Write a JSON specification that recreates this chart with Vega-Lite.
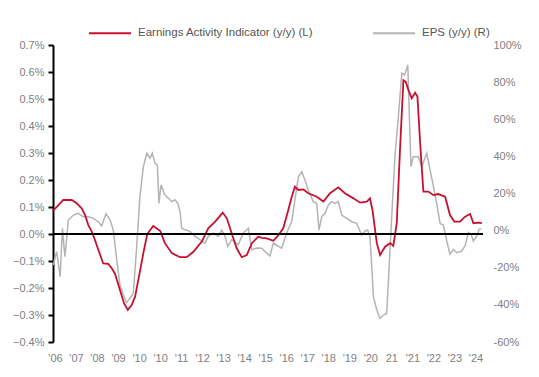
{
 "$schema": "https://vega.github.io/schema/vega-lite/v6.json",
 "width": 430,
 "height": 297,
 "autosize": {"type": "none"},
 "padding": {"left": 53, "top": 45, "right": 56, "bottom": 35},
 "config": {
  "view": {"stroke": null},
  "font": "Liberation Sans",
  "axis": {"grid": false, "title": null, "labelColor": "#808080", "labelFontSize": 11, "labelFont": "Liberation Sans", "labelOverlap": false, "labelBound": false, "labelFlush": false}
 },
 "datasets": {
  "eai": [
   {"t":2006.25,"v":0.086},{"t":2006.70,"v":0.126},{"t":2007.07,"v":0.126},{"t":2007.28,"v":0.114},{"t":2007.50,"v":0.095},
   {"t":2007.65,"v":0.070},{"t":2007.79,"v":0.033},{"t":2007.94,"v":0.009},{"t":2008.08,"v":-0.022},{"t":2008.23,"v":-0.059},
   {"t":2008.44,"v":-0.109},{"t":2008.66,"v":-0.111},{"t":2008.81,"v":-0.127},{"t":2008.95,"v":-0.146},{"t":2009.17,"v":-0.207},
   {"t":2009.35,"v":-0.257},{"t":2009.51,"v":-0.281},{"t":2009.68,"v":-0.263},{"t":2009.83,"v":-0.232},{"t":2009.97,"v":-0.170},
   {"t":2010.19,"v":-0.071},{"t":2010.36,"v":0.0},{"t":2010.62,"v":0.030},{"t":2010.70,"v":0.025},{"t":2010.92,"v":0.012},
   {"t":2011.13,"v":-0.034},{"t":2011.43,"v":-0.071},{"t":2011.79,"v":-0.086},{"t":2012.08,"v":-0.086},{"t":2012.37,"v":-0.066},
   {"t":2012.74,"v":-0.028},{"t":2013.02,"v":0.021},{"t":2013.32,"v":0.046},{"t":2013.65,"v":0.079},{"t":2013.83,"v":0.058},
   {"t":2014.04,"v":0.003},{"t":2014.26,"v":-0.053},{"t":2014.48,"v":-0.086},{"t":2014.70,"v":-0.078},{"t":2014.92,"v":-0.034},
   {"t":2015.20,"v":-0.010},{"t":2015.36,"v":-0.014},{"t":2015.57,"v":-0.016},{"t":2015.86,"v":-0.025},{"t":2016.08,"v":-0.004},
   {"t":2016.29,"v":0.021},{"t":2016.51,"v":0.089},{"t":2016.66,"v":0.138},{"t":2016.80,"v":0.175},{"t":2016.95,"v":0.163},
   {"t":2017.17,"v":0.165},{"t":2017.38,"v":0.151},{"t":2017.75,"v":0.138},{"t":2018.04,"v":0.120},{"t":2018.33,"v":0.151},
   {"t":2018.69,"v":0.173},{"t":2018.98,"v":0.151},{"t":2019.35,"v":0.132},{"t":2019.64,"v":0.116},{"t":2019.93,"v":0.120},
   {"t":2020.07,"v":0.132},{"t":2020.18,"v":0.089},{"t":2020.37,"v":-0.034},{"t":2020.51,"v":-0.078},{"t":2020.73,"v":-0.047},
   {"t":2020.95,"v":-0.034},{"t":2021.09,"v":-0.044},{"t":2021.24,"v":0.040},{"t":2021.38,"v":0.311},{"t":2021.53,"v":0.570},
   {"t":2021.63,"v":0.564},{"t":2021.75,"v":0.533},{"t":2021.89,"v":0.503},{"t":2022.04,"v":0.523},{"t":2022.14,"v":0.509},
   {"t":2022.26,"v":0.336},{"t":2022.40,"v":0.157},{"t":2022.62,"v":0.157},{"t":2022.84,"v":0.144},{"t":2023.05,"v":0.148},
   {"t":2023.35,"v":0.138},{"t":2023.56,"v":0.070},{"t":2023.75,"v":0.046},{"t":2024.00,"v":0.046},{"t":2024.22,"v":0.064},
   {"t":2024.44,"v":0.074},{"t":2024.58,"v":0.040},{"t":2024.80,"v":0.042},{"t":2024.95,"v":0.040}
  ],
  "eps": [
   {"t":2006.26,"v":-18.5},{"t":2006.41,"v":-11.3},{"t":2006.56,"v":-24.8},{"t":2006.66,"v":1.2},{"t":2006.77,"v":-14.1},
   {"t":2006.92,"v":5.7},{"t":2007.14,"v":8.4},{"t":2007.35,"v":9.3},{"t":2007.57,"v":7.5},{"t":2007.79,"v":7.5},
   {"t":2008.01,"v":6.6},{"t":2008.23,"v":4.8},{"t":2008.37,"v":2.5},{"t":2008.56,"v":9.0},{"t":2008.74,"v":5.7},
   {"t":2008.88,"v":0.3},{"t":2009.03,"v":-15.8},{"t":2009.17,"v":-29.3},{"t":2009.35,"v":-35.6},{"t":2009.46,"v":-38.8},
   {"t":2009.61,"v":-36.4},{"t":2009.75,"v":-33.8},{"t":2009.90,"v":-8.7},{"t":2010.04,"v":18.3},{"t":2010.19,"v":34.4},
   {"t":2010.34,"v":41.7},{"t":2010.48,"v":39.0},{"t":2010.58,"v":41.7},{"t":2010.70,"v":36.3},{"t":2010.80,"v":35.3},
   {"t":2010.87,"v":14.7},{"t":2010.96,"v":24.6},{"t":2011.13,"v":19.2},{"t":2011.28,"v":17.4},{"t":2011.43,"v":15.6},
   {"t":2011.57,"v":16.6},{"t":2011.69,"v":14.7},{"t":2011.79,"v":10.3},{"t":2011.86,"v":1.3},{"t":2012.01,"v":0.5},
   {"t":2012.22,"v":-0.4},{"t":2012.44,"v":-3.1},{"t":2012.66,"v":-4.9},{"t":2012.88,"v":-6.7},{"t":2013.02,"v":-3.1},
   {"t":2013.24,"v":-1.3},{"t":2013.46,"v":-3.1},{"t":2013.61,"v":0.3},{"t":2013.75,"v":-3.1},{"t":2013.87,"v":-8.5},
   {"t":2014.04,"v":-4.9},{"t":2014.33,"v":-7.5},{"t":2014.55,"v":-1.3},{"t":2014.77,"v":1.3},{"t":2014.92,"v":-10.3},
   {"t":2015.13,"v":-9.4},{"t":2015.35,"v":-9.5},{"t":2015.50,"v":-11.3},{"t":2015.71,"v":-13.6},{"t":2015.86,"v":-6.7},
   {"t":2016.08,"v":-8.5},{"t":2016.22,"v":-9.4},{"t":2016.44,"v":-1.3},{"t":2016.66,"v":5.0},{"t":2016.80,"v":16.6},
   {"t":2016.95,"v":29.0},{"t":2017.10,"v":31.7},{"t":2017.24,"v":27.2},{"t":2017.38,"v":21.9},{"t":2017.60,"v":15.6},
   {"t":2017.75,"v":14.7},{"t":2017.85,"v":0.3},{"t":2017.97,"v":7.5},{"t":2018.11,"v":9.3},{"t":2018.26,"v":13.8},
   {"t":2018.40,"v":15.6},{"t":2018.55,"v":14.7},{"t":2018.69,"v":15.6},{"t":2018.84,"v":8.4},{"t":2019.06,"v":6.6},
   {"t":2019.28,"v":4.8},{"t":2019.49,"v":3.9},{"t":2019.71,"v":-2.3},{"t":2019.86,"v":-0.2},{"t":2019.97,"v":0.3},
   {"t":2020.07,"v":-3.1},{"t":2020.15,"v":-19.3},{"t":2020.22,"v":-35.6},{"t":2020.37,"v":-42.8},{"t":2020.51,"v":-47.3},
   {"t":2020.66,"v":-45.5},{"t":2020.80,"v":-44.6},{"t":2020.87,"v":-28.4},{"t":2021.02,"v":7.5},{"t":2021.16,"v":39.8},
   {"t":2021.31,"v":61.4},{"t":2021.46,"v":84.8},{"t":2021.57,"v":83.8},{"t":2021.68,"v":87.4},{"t":2021.72,"v":89.2},
   {"t":2021.79,"v":61.4},{"t":2021.86,"v":34.4},{"t":2021.96,"v":39.8},{"t":2022.18,"v":39.8},{"t":2022.33,"v":34.4},
   {"t":2022.55,"v":41.7},{"t":2022.69,"v":32.7},{"t":2022.84,"v":23.7},{"t":2022.98,"v":14.7},{"t":2023.13,"v":3.9},
   {"t":2023.27,"v":3.0},{"t":2023.42,"v":-5.6},{"t":2023.56,"v":-12.8},{"t":2023.71,"v":-10.1},{"t":2023.86,"v":-11.9},
   {"t":2024.07,"v":-11.0},{"t":2024.22,"v":-8.3},{"t":2024.36,"v":-1.0},{"t":2024.48,"v":-1.9},{"t":2024.58,"v":-5.6},
   {"t":2024.73,"v":-2.9},{"t":2024.83,"v":0.7},{"t":2024.92,"v":1.1}
  ]
 },
 "layer": [
  {
   "data": {"name": "eps"},
   "mark": {"type": "line", "strokeWidth": 1.5},
   "encoding": {
    "x": {
     "field": "t", "type": "quantitative",
     "scale": {"domain": [2006.25, 2025], "nice": false, "zero": false},
     "axis": {
      "orient": "bottom",
      "values": [2006.337,2007.254,2008.170,2009.087,2010.004,2010.921,2011.837,2012.754,2013.671,2014.587,2015.504,2016.421,2017.337,2018.254,2019.171,2020.087,2021.004,2021.921,2022.837,2023.754,2024.671],
      "labelExpr": "datum.value > 2021 && datum.value < 2021.5 ? '21' : \"'\" + substring(toString(floor(datum.value)), 2)",
      "domain": false, "ticks": false, "tickSize": 0, "labelPadding": 10, "labelOverlap": false, "labelColor": "#808080"
     }
    },
    "y": {
     "field": "v", "type": "quantitative",
     "scale": {"domain": [-60, 100], "nice": false, "zero": false},
     "axis": {
      "orient": "right",
      "values": [-60,-40,-20,0,20,40,60,80,100],
      "labelExpr": "datum.value + '%'",
      "domain": false, "ticks": false, "tickSize": 0, "labelPadding": 10, "labelOverlap": false, "labelColor": "#808080"
     }
    },
    "color": {
     "datum": "EPS (y/y) (R)", "type": "nominal",
     "scale": {"domain": ["Earnings Activity Indicator (y/y) (L)", "EPS (y/y) (R)"], "range": ["#C8102E", "#B4B4B4"]},
     "legend": {
      "orient": "none", "legendX": 35, "legendY": -34, "direction": "horizontal", "title": null,
      "symbolType": "stroke", "symbolSize": 1764, "symbolStrokeWidth": 2,
      "labelFontSize": 11.5, "labelColor": "#555555", "labelOffset": 6, "labelLimit": 400, "columnPadding": 55
     }
    }
   }
  },
  {
   "data": {"name": "eai"},
   "mark": {"type": "line", "strokeWidth": 1.8},
   "encoding": {
    "x": {"field": "t", "type": "quantitative", "axis": {
     "orient": "bottom",
     "values": [2006.337,2007.254,2008.170,2009.087,2010.004,2010.921,2011.837,2012.754,2013.671,2014.587,2015.504,2016.421,2017.337,2018.254,2019.171,2020.087,2021.004,2021.921,2022.837,2023.754,2024.671],
     "labelExpr": "datum.value > 2021 && datum.value < 2021.5 ? '21' : \"'\" + substring(toString(floor(datum.value)), 2)",
     "domain": false, "ticks": false, "tickSize": 0, "labelPadding": 10, "labelOverlap": false, "labelColor": "#808080"
    }},
    "y": {
     "field": "v", "type": "quantitative",
     "scale": {"domain": [-0.4, 0.7], "nice": false, "zero": false},
     "axis": {
      "orient": "left",
      "values": [-0.4,-0.3,-0.2,-0.1,0,0.1,0.2,0.3,0.4,0.5,0.6,0.7],
      "labelExpr": "format(datum.value, '.1f') + '%'",
      "domain": true, "domainColor": "#000000", "domainWidth": 2,
      "ticks": true, "tickColor": "#000000", "tickWidth": 2, "tickSize": 5, "labelPadding": 4,
      "labelOverlap": false, "labelColor": "#808080"
     }
    },
    "color": {"datum": "Earnings Activity Indicator (y/y) (L)", "type": "nominal"}
   }
  },
  {
   "data": {"values": [{}]},
   "mark": {"type": "rule", "color": "#000000", "strokeWidth": 2},
   "encoding": {"y": {"datum": 0, "type": "quantitative", "scale": {"domain": [-0.4, 0.7], "nice": false, "zero": false}, "axis": null}}
  }
 ],
 "resolve": {"scale": {"y": "independent"}}
}
